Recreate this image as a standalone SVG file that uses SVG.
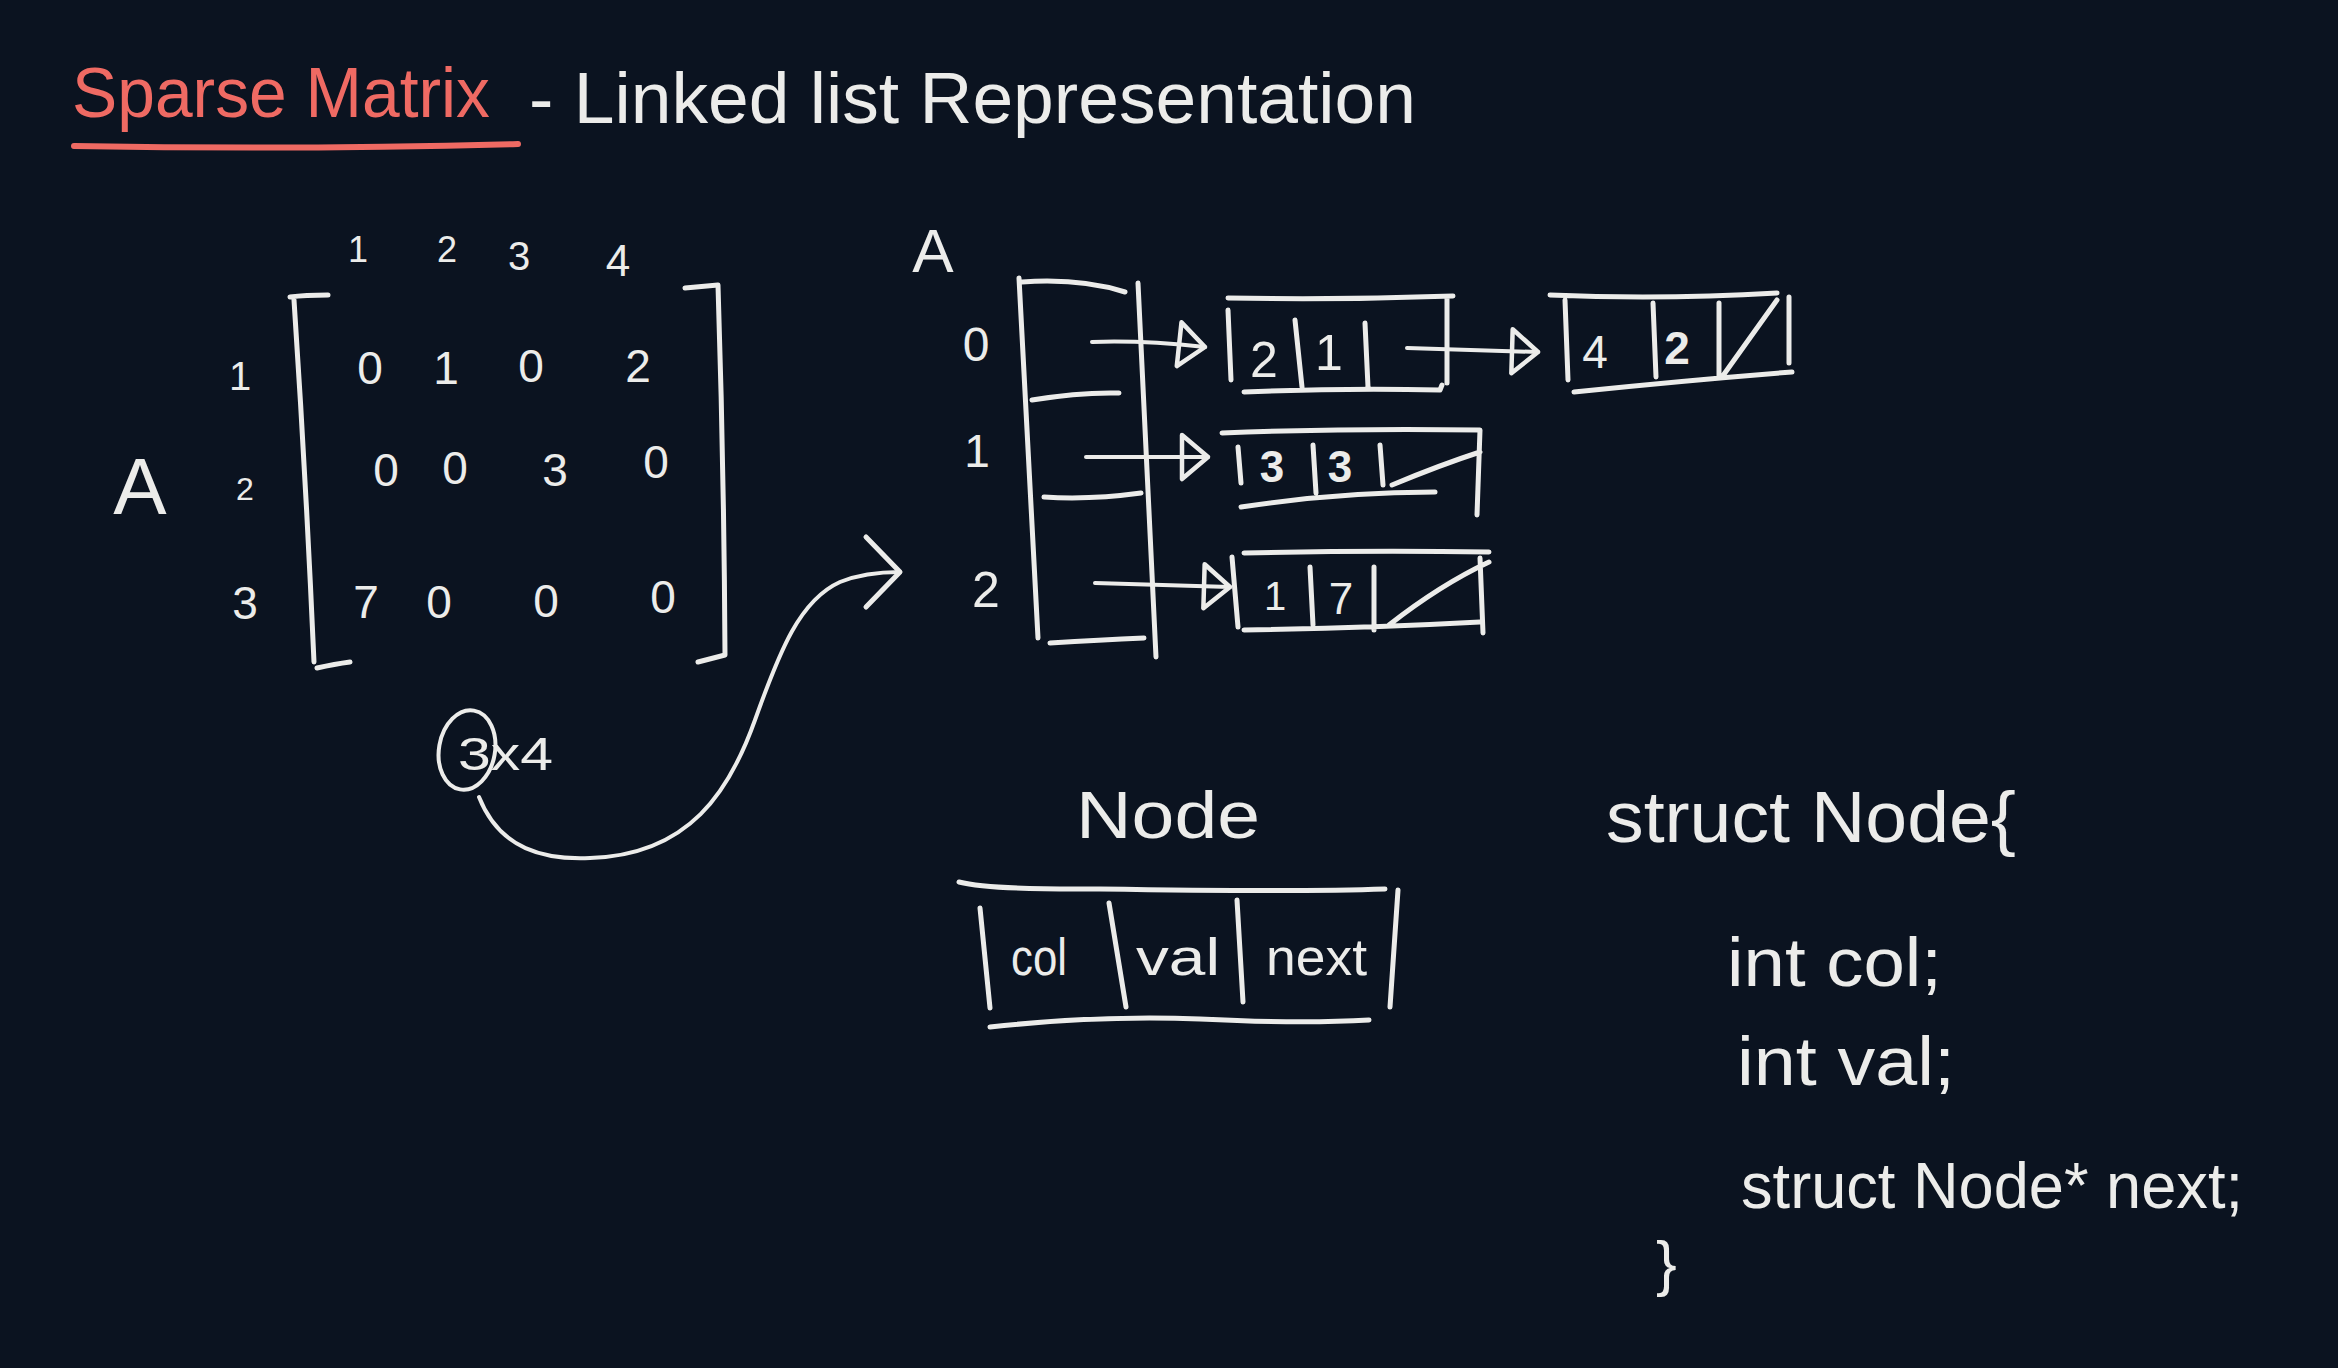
<svg xmlns="http://www.w3.org/2000/svg" width="2338" height="1368" viewBox="0 0 2338 1368">
<style>
.ln{fill:none;stroke:#ececea;stroke-width:5;stroke-linecap:round;stroke-linejoin:round}
.thin{fill:none;stroke:#ececea;stroke-width:4;stroke-linecap:round;stroke-linejoin:round}
.red{fill:none;stroke:#ef6a63;stroke-width:6;stroke-linecap:round}
.t{font-family:"Liberation Sans",Arial,sans-serif;fill:#ececea}
.tr{font-family:"Liberation Sans",Arial,sans-serif;fill:#ef6a63}
.c{text-anchor:middle}
</style>
<defs>
<marker id="tri" viewBox="0 0 34 52" refX="30" refY="26" markerWidth="34" markerHeight="52" markerUnits="userSpaceOnUse" orient="auto" overflow="visible">
<path d="M4,4 L30,26 L4,48 Z" fill="none" stroke="#ececea" stroke-width="4.5" stroke-linejoin="round"/>
</marker>
<marker id="chev" viewBox="0 0 40 76" refX="37" refY="38" markerWidth="40" markerHeight="76" markerUnits="userSpaceOnUse" orient="auto" overflow="visible">
<path d="M3,3 L37,38 L3,73" fill="none" stroke="#ececea" stroke-width="5" stroke-linecap="round" stroke-linejoin="round"/>
</marker>
</defs>
<rect width="2338" height="1368" fill="#0b1320"/>

<g id="title">
<text class="tr" x="72" y="117" font-size="70" textLength="418" lengthAdjust="spacingAndGlyphs">Sparse Matrix</text>
<path class="red" d="M74,146 Q300,150 518,144"/>
<text class="t" x="529" y="123" font-size="72" textLength="887" lengthAdjust="spacingAndGlyphs">- Linked list Representation</text>
</g>

<g id="matrix">
<text class="t" x="140" y="514" font-size="80" text-anchor="middle">A</text>
<text class="t c" x="358" y="262" font-size="36">1</text>
<text class="t c" x="447" y="262" font-size="36">2</text>
<text class="t c" x="519" y="270" font-size="40">3</text>
<text class="t c" x="618" y="276" font-size="44">4</text>
<text class="t c" x="240" y="390" font-size="40">1</text>
<text class="t c" x="245" y="500" font-size="32">2</text>
<text class="t c" x="245" y="619" font-size="46">3</text>
<path class="ln" d="M328,295 Q305,295 290,297 M294,300 Q306,480 314,662 M317,668 Q335,664 350,662"/>
<path class="ln" d="M685,288 L718,285 Q724,470 725,655 L698,662"/>
<g font-size="46">
<text class="t c" x="370" y="384">0</text>
<text class="t c" x="446" y="384">1</text>
<text class="t c" x="531" y="382">0</text>
<text class="t c" x="638" y="382">2</text>
<text class="t c" x="386" y="486">0</text>
<text class="t c" x="455" y="484">0</text>
<text class="t c" x="555" y="486">3</text>
<text class="t c" x="656" y="478">0</text>
<text class="t c" x="366" y="618">7</text>
<text class="t c" x="439" y="618">0</text>
<text class="t c" x="546" y="617">0</text>
<text class="t c" x="663" y="613">0</text>
</g>
<ellipse class="thin" cx="467" cy="750" rx="28" ry="40" transform="rotate(10 467 750)"/>
<text class="t" x="458" y="770" font-size="46" textLength="95" lengthAdjust="spacingAndGlyphs">3x4</text>
</g>

<g id="array">
<text class="t c" x="933" y="272" font-size="62">A</text>
<text class="t c" x="976" y="361" font-size="48">0</text>
<text class="t c" x="977" y="467" font-size="46">1</text>
<text class="t c" x="986" y="607" font-size="50">2</text>
<path class="ln" d="M1022,282 Q1080,278 1125,292 M1019,278 L1038,638 M1138,283 L1156,657 M1032,400 Q1080,392 1119,393 M1044,497 Q1090,500 1141,493 M1050,643 Q1100,640 1144,638"/>
</g>

<g id="node-0-2">
<path class="ln" d="M1228,298 Q1340,300 1453,296 M1228,310 L1231,380 M1295,320 L1302,387 M1365,323 L1368,387 M1447,298 L1447,383 M1244,392 Q1340,388 1440,390 L1442,385"/>
<text class="t c" x="1264" y="377" font-size="50">2</text>
<text class="t c" x="1329" y="370" font-size="50">1</text>
</g>

<g id="node-0-4">
<path class="ln" d="M1550,295 Q1660,300 1777,293 M1565,300 L1568,380 M1653,303 L1656,377 M1719,303 L1719,377 M1722,377 L1777,300 M1789,297 L1789,363 M1574,392 Q1690,380 1792,372"/>
<text class="t c" x="1595" y="368" font-size="46">4</text>
<text class="t c" x="1677" y="364" font-size="46" font-weight="bold">2</text>
</g>

<g id="node-1-3">
<path class="ln" d="M1222,433 Q1350,428 1480,430 L1477,515 M1238,447 L1241,483 M1313,445 L1316,493 M1380,445 L1383,485 M1392,485 Q1440,465 1480,452 M1241,507 Q1340,492 1435,492"/>
<text class="t c" x="1272" y="482" font-size="44" font-weight="bold">3</text>
<text class="t c" x="1340" y="482" font-size="44" font-weight="bold">3</text>
</g>

<g id="node-2-1">
<path class="ln" d="M1244,553 Q1370,550 1489,552 M1232,557 L1238,627 M1310,567 L1313,625 M1374,567 L1374,630 M1389,625 Q1440,585 1489,562 M1480,558 L1483,633 M1244,630 Q1370,628 1480,622"/>
<text class="t c" x="1275" y="610" font-size="40">1</text>
<text class="t c" x="1341" y="614" font-size="44">7</text>
</g>

<g id="node-legend">
<text class="t" x="1076" y="838" font-size="66" textLength="184" lengthAdjust="spacingAndGlyphs">Node</text>
<path class="ln" d="M959,882 Q990,890 1100,889 Q1300,892 1385,889 M980,908 L990,1008 M1109,903 L1126,1007 M1237,900 L1243,1002 M1398,890 L1390,1007 M990,1027 Q1100,1015 1200,1019 Q1300,1024 1369,1020"/>
<text class="t" x="1011" y="975" font-size="52" textLength="56" lengthAdjust="spacingAndGlyphs">col</text>
<text class="t" x="1136" y="975" font-size="52" textLength="84" lengthAdjust="spacingAndGlyphs">val</text>
<text class="t" x="1266" y="975" font-size="52" textLength="101" lengthAdjust="spacingAndGlyphs">next</text>
</g>

<g id="struct-code">
<text class="t" x="1606" y="842" font-size="72" textLength="410" lengthAdjust="spacingAndGlyphs">struct Node{</text>
<text class="t" x="1727" y="986" font-size="68" textLength="215" lengthAdjust="spacingAndGlyphs">int col;</text>
<text class="t" x="1737" y="1085" font-size="68" textLength="218" lengthAdjust="spacingAndGlyphs">int val;</text>
<text class="t" x="1741" y="1208" font-size="64" textLength="502" lengthAdjust="spacingAndGlyphs">struct Node* next;</text>
<text class="t" x="1656" y="1284" font-size="62">}</text>
</g>

<g id="connectors">
<path class="thin" d="M1092,342 Q1140,340 1205,347" marker-end="url(#tri)"/>
<path class="thin" d="M1086,457 L1208,457" marker-end="url(#tri)"/>
<path class="thin" d="M1095,583 L1230,587" marker-end="url(#tri)"/>
<path class="thin" d="M1407,348 L1538,352" marker-end="url(#tri)"/>
<path class="thin" d="M479,797 C500,850 545,860 590,858 C690,855 730,790 755,720 C780,650 800,600 840,582 C860,574 880,572 900,572" marker-end="url(#chev)"/>
</g>
</svg>
